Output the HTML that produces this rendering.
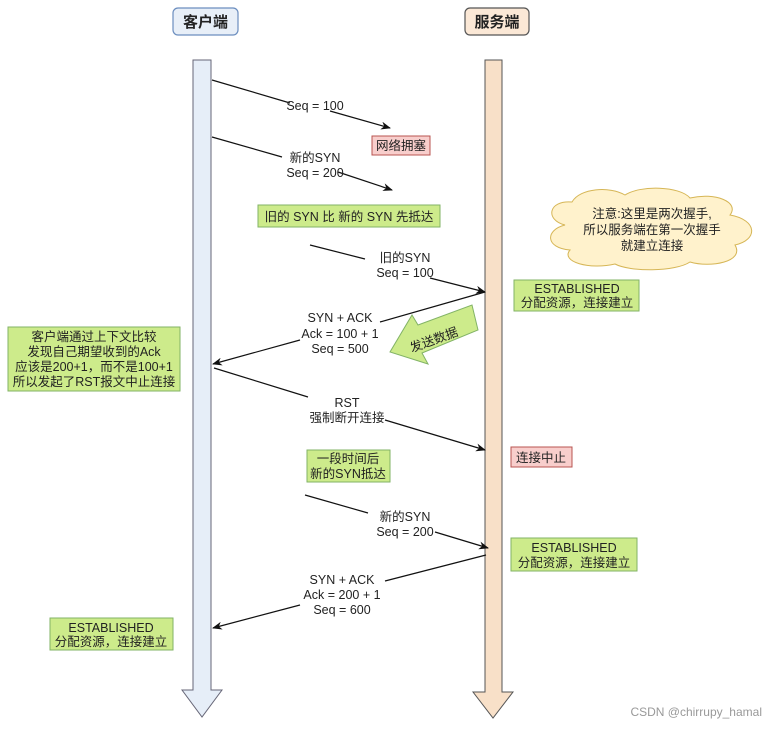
<!DOCTYPE html>
<html><head><meta charset="utf-8"><style>
html,body{margin:0;padding:0;background:#fff}
svg text{font-family:"Liberation Sans","Noto Sans CJK SC",sans-serif;font-size:12.5px;fill:#222}
</style></head><body>
<svg width="765" height="725" viewBox="0 0 765 725" xmlns="http://www.w3.org/2000/svg">
<defs>
<marker id="a" markerWidth="10" markerHeight="8" refX="9" refY="4" orient="auto" markerUnits="userSpaceOnUse">
<path d="M0,0 L10,4 L0,8 L3,4 Z" fill="#111"/></marker>
</defs>
<rect x="173" y="8" width="65" height="27" rx="5" fill="#e8eff8" stroke="#6c8ebf" stroke-width="1.2"/>
<text x="205.5" y="27" text-anchor="middle" style="font-size:15px;font-weight:bold">客户端</text>
<rect x="465" y="8" width="64" height="27" rx="5" fill="#fbe8d6" stroke="#555" stroke-width="1.2"/>
<text x="497" y="27" text-anchor="middle" style="font-size:15px;font-weight:bold">服务端</text>
<path d="M193,60 L211,60 L211,690 L222,690 L202,717 L182,690 L193,690 Z" fill="#e6eef8" stroke="#667" stroke-width="1"/>
<path d="M485,60 L502,60 L502,692 L513,692 L493,718 L473,692 L485,692 Z" fill="#f8e0c8" stroke="#555" stroke-width="1"/>
<g stroke="#111" stroke-width="1.2" fill="none">
<path d="M212,80 L290,103"/><path d="M330,111 L390,128" marker-end="url(#a)"/>
<path d="M212,137 L282,157"/><path d="M338,172 L392,190" marker-end="url(#a)"/>
<path d="M310,245 L365,259"/><path d="M430,278 L485,292" marker-end="url(#a)"/>
<path d="M485,292 L380,322"/><path d="M300,340 L213,364" marker-end="url(#a)"/>
<path d="M214,368 L308,397"/><path d="M385,420 L485,450" marker-end="url(#a)"/>
<path d="M305,495 L368,513"/><path d="M435,532 L488,548" marker-end="url(#a)"/>
<path d="M486,555 L385,581"/><path d="M300,605 L213,628" marker-end="url(#a)"/>
</g>
<g text-anchor="middle">
<text x="315" y="110">Seq = 100</text>
<text x="315" y="162">新的SYN</text><text x="315" y="177">Seq = 200</text>
<text x="405" y="262">旧的SYN</text><text x="405" y="277">Seq = 100</text>
<text x="340" y="322">SYN + ACK</text><text x="340" y="338">Ack = 100 + 1</text><text x="340" y="353">Seq = 500</text>
<text x="347" y="407">RST</text><text x="347" y="422">强制断开连接</text>
<text x="405" y="521">新的SYN</text><text x="405" y="536">Seq = 200</text>
<text x="342" y="584">SYN + ACK</text><text x="342" y="599">Ack = 200 + 1</text><text x="342" y="614">Seq = 600</text>
</g>
<rect x="372" y="136" width="58" height="19" fill="#f8cecc" stroke="#b85450"/>
<text x="401" y="150" text-anchor="middle">网络拥塞</text>
<rect x="258" y="205" width="182" height="22" fill="#cdeb8b" stroke="#82b366"/>
<text x="349" y="221" text-anchor="middle">旧的 SYN 比 新的 SYN 先抵达</text>
<rect x="514" y="280" width="125" height="31" fill="#cdeb8b" stroke="#82b366"/>
<text x="577" y="293" text-anchor="middle">ESTABLISHED</text><text x="577" y="307" text-anchor="middle">分配资源，连接建立</text>
<path d="M565,225 C545,220 548,200 572,202 C580,188 610,186 625,195 C640,185 680,186 690,198 C715,192 740,202 730,215 C758,220 758,240 735,245 C745,262 710,268 690,262 C675,272 630,272 615,264 C590,270 560,262 570,250 C545,248 545,230 565,225 Z" fill="#fff2cc" stroke="#d6b656"/>
<g text-anchor="middle"><text x="652" y="218">注意:这里是两次握手,</text><text x="652" y="234">所以服务端在第一次握手</text><text x="652" y="250">就建立连接</text></g>
<path d="M478,330 L472,305 L418,325 L412,315 L390,352 L428,364 L422,353 Z" fill="#cdeb8b" stroke="#82b366"/>
<text x="434" y="344" text-anchor="middle" transform="rotate(-20 434 340)">发送数据</text>
<rect x="8" y="327" width="172" height="64" fill="#cdeb8b" stroke="#82b366"/>
<g text-anchor="middle"><text x="94" y="341">客户端通过上下文比较</text><text x="94" y="356">发现自己期望收到的Ack</text><text x="94" y="371">应该是200+1，而不是100+1</text><text x="94" y="386">所以发起了RST报文中止连接</text></g>
<rect x="511" y="447" width="61" height="20" fill="#f8cecc" stroke="#b85450"/>
<text x="541" y="462" text-anchor="middle">连接中止</text>
<rect x="307" y="450" width="83" height="32" fill="#cdeb8b" stroke="#82b366"/>
<text x="348" y="463" text-anchor="middle">一段时间后</text><text x="348" y="478" text-anchor="middle">新的SYN抵达</text>
<rect x="511" y="538" width="126" height="33" fill="#cdeb8b" stroke="#82b366"/>
<text x="574" y="552" text-anchor="middle">ESTABLISHED</text><text x="574" y="567" text-anchor="middle">分配资源，连接建立</text>
<rect x="50" y="618" width="123" height="32" fill="#cdeb8b" stroke="#82b366"/>
<text x="111" y="632" text-anchor="middle">ESTABLISHED</text><text x="111" y="646" text-anchor="middle">分配资源，连接建立</text>
<text x="762" y="716" text-anchor="end" style="fill:#999;font-size:12px">CSDN @chirrupy_hamal</text>
</svg>
</body></html>
